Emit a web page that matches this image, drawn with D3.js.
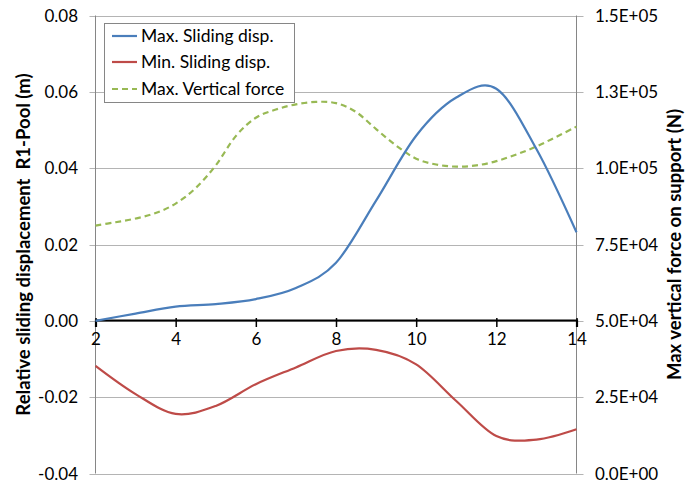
<!DOCTYPE html>
<html>
<head>
<meta charset="utf-8">
<script src="https://cdn.jsdelivr.net/npm/d3@7"></script>
<style>
  html, body { margin: 0; padding: 0; background: #fff; }
  svg { display: block; font-family: Lato, "Open Sans", sans-serif; }
</style>
</head>
<body>
<svg id="chart" width="696" height="484"></svg>
<script>
// ---- data ----
const xValues = [2, 3, 4, 5, 6, 7, 8, 9, 10, 11, 12, 13, 14];
const maxSliding = [0.0000, 0.0019, 0.0037, 0.0044, 0.0057, 0.0086, 0.0152, 0.0315, 0.0485, 0.0585, 0.0608, 0.0450, 0.0232];
const minSliding = [-0.0118, -0.0192, -0.0244, -0.0223, -0.0166, -0.0122, -0.0079, -0.0076, -0.0114, -0.0210, -0.0302, -0.0311, -0.0284];
const forceX = [2, 2.5, 3, 3.5, 4, 4.5, 5, 5.5, 6, 6.5, 7, 7.5, 8, 8.5, 9, 9.5, 10, 10.5, 11, 11.5, 12, 12.5, 13, 13.5, 14];
const maxVertical = [81200, 82300, 83500, 85300, 88400, 93500, 100900, 110500, 116500, 119200, 120900, 121700, 121300, 118400, 112800, 107400, 103100, 101200, 100500, 100900, 102300, 104500, 107100, 110300, 113600];
const xTicks = [2, 4, 6, 8, 10, 12, 14];
const leftTicks = [-0.04, -0.02, 0, 0.02, 0.04, 0.06, 0.08];
const rightTicks = [0, 25000, 50000, 75000, 100000, 125000, 150000];
const seriesNames = ["Max. Sliding disp.", "Min. Sliding disp.", "Max. Vertical force"];
const leftTitle = "Relative sliding displacement\u00a0\u00a0R1-Pool (m)";
const rightTitle = "Max vertical force on support (N)";

// ---- layout ----
const svg = d3.select("#chart");
const L = 95.5, R = 576.5, T = 15.5, B = 473.5;
const x = d3.scaleLinear().domain([2, 14]).range([L, R]);
const yL = d3.scaleLinear().domain([-0.04, 0.08]).range([B, T]);
const yR = d3.scaleLinear().domain([0, 150000]).range([B, T]);

const gridColor = "#b4b4b4";
const axisColor = "#868686";
const fontSize = 17;

// gridlines (extend as outer ticks on both sides)
svg.append("g").selectAll("line").data(leftTicks).join("line")
  .attr("x1", L - 6).attr("x2", R + 7)
  .attr("y1", d => Math.round(yL(d)) + 0.5).attr("y2", d => Math.round(yL(d)) + 0.5)
  .attr("stroke", gridColor).attr("stroke-width", 1);

// vertical axis lines
svg.append("line").attr("x1", L).attr("x2", L).attr("y1", T).attr("y2", B)
  .attr("stroke", axisColor).attr("stroke-width", 1);
svg.append("line").attr("x1", R).attr("x2", R).attr("y1", T).attr("y2", B)
  .attr("stroke", axisColor).attr("stroke-width", 1);

// left tick labels
svg.append("g").selectAll("text").data(leftTicks).join("text")
  .attr("x", 78).attr("y", d => yL(d)).attr("dy", "0.36em")
  .attr("text-anchor", "end").attr("font-size", fontSize).attr("fill", "#000")
  .text(d => d3.format(".2f")(d).replace("−", "-"));

// right tick labels
const sci = d => {
  if (d === 0) return "0.0E+00";
  const e = Math.floor(Math.log10(d));
  const m = d / Math.pow(10, e);
  return m.toFixed(1) + "E+" + String(e).padStart(2, "0");
};
svg.append("g").selectAll("text").data(rightTicks).join("text")
  .attr("x", 595).attr("y", d => yR(d)).attr("dy", "0.36em")
  .attr("text-anchor", "start").attr("font-size", fontSize).attr("fill", "#000")
  .text(d => sci(d));

// x axis at y = 0
const y0 = Math.round(yL(0));
const xAxis = d3.axisBottom(x).tickValues(xTicks).tickSize(7).tickPadding(6).tickFormat(d3.format("d"));
const gx = svg.append("g").attr("transform", `translate(0,${y0 - 1})`).call(xAxis);
gx.select(".domain").attr("stroke", "#000").attr("stroke-width", 2.2);
gx.selectAll(".tick line").attr("stroke", "#000").attr("stroke-width", 1.5).attr("y1", -2);
gx.selectAll(".tick text").attr("font-size", fontSize).attr("font-family", "Lato, 'Open Sans', sans-serif").attr("fill", "#000");

// series lines
const curve = d3.curveCatmullRom.alpha(0);
const lineL = d3.line().x((d, i) => x(xValues[i])).y(d => yL(d)).curve(curve);
const lineR = d3.line().x((d, i) => x(forceX[i])).y(d => yR(d)).curve(curve);

svg.append("path").attr("d", lineR(maxVertical)).attr("fill", "none")
  .attr("stroke", "#98b954").attr("stroke-width", 2.2).attr("stroke-dasharray", "6,4");
svg.append("path").attr("d", lineL(minSliding)).attr("fill", "none")
  .attr("stroke", "#be4b48").attr("stroke-width", 2.2);
svg.append("path").attr("d", lineL(maxSliding)).attr("fill", "none")
  .attr("stroke", "#4a7ebb").attr("stroke-width", 2.2);

// axis titles
svg.append("text")
  .attr("transform", `translate(30,${(T + B) / 2}) rotate(-90)`)
  .attr("text-anchor", "middle").attr("font-size", 18.5).attr("font-weight", "bold")
  .text(leftTitle);
svg.append("text")
  .attr("transform", `translate(681,${(T + B) / 2}) rotate(-90)`)
  .attr("text-anchor", "middle").attr("font-size", 18.5).attr("font-weight", "bold")
  .text(rightTitle);

// legend
const lg = svg.append("g");
lg.append("rect").attr("x", 104.5).attr("y", 23.5).attr("width", 190).attr("height", 79)
  .attr("fill", "#fff").attr("stroke", axisColor).attr("stroke-width", 1);
const legendItems = [
  { name: seriesNames[0], color: "#4a7ebb", dash: null },
  { name: seriesNames[1], color: "#be4b48", dash: null },
  { name: seriesNames[2], color: "#98b954", dash: "6,4" }
];
const rowY = [36, 62, 89];
legendItems.forEach((it, i) => {
  lg.append("line").attr("x1", 112).attr("x2", 137).attr("y1", rowY[i]).attr("y2", rowY[i])
    .attr("stroke", it.color).attr("stroke-width", 2.2).attr("stroke-dasharray", it.dash);
  lg.append("text").attr("x", 141).attr("y", rowY[i]).attr("dy", "0.36em")
    .attr("font-size", 17.5).text(it.name);
});
</script>
</body>
</html>
